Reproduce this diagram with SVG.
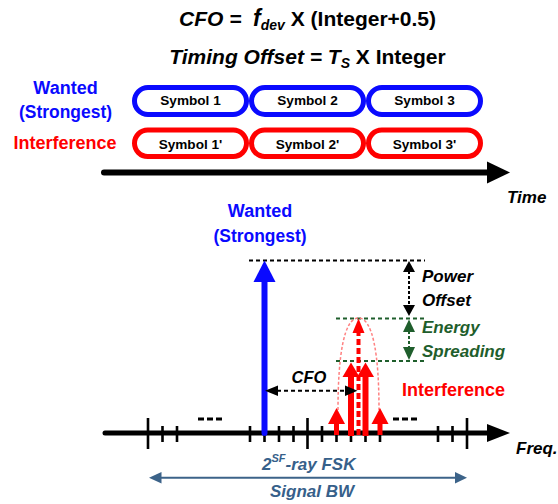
<svg xmlns="http://www.w3.org/2000/svg" width="558" height="504" viewBox="0 0 558 504">
  <defs>
    <style>
      text { font-family: "Liberation Sans", Arial, sans-serif; font-weight: bold; }
      .it { font-style: italic; }
      .title { font-size: 21px; fill: #000; text-anchor: middle; }
      .lbl { font-size: 18px; }
      .lbl2 { font-size: 17px; }
      .blue { fill: #0a0aff; }
      .red { fill: #ff0000; }
      .green { fill: #1f5e2c; }
      .slate { fill: #36608a; }
      .sym { font-size: 13.6px; fill: #000; text-anchor: middle; }
      .capB { fill: #fff; stroke: #0a0aff; stroke-width: 5; }
      .capR { fill: #fff; stroke: #ff0000; stroke-width: 5; }
      .tick { stroke: #000; stroke-width: 2.6; fill: none; }
      .bdash { stroke: #000; stroke-width: 2; stroke-dasharray: 4 3; fill: none; }
      .gdash { stroke: #1f5e2c; stroke-width: 2; stroke-dasharray: 4 3; fill: none; }
      .dots { stroke: #000; stroke-width: 3; stroke-dasharray: 6 3; }
    </style>
  </defs>

  <!-- formulas -->
  <g id="formulas">
    <text class="title" x="307.5" y="26"><tspan class="it">CFO =&#160;&#160;</tspan><tspan class="it" font-size="23">f</tspan><tspan class="it" font-size="14" dy="4">dev</tspan><tspan dy="-4"> X (Integer+0.5)</tspan></text>
    <text class="title" x="307.5" y="64"><tspan class="it">Timing Offset = T</tspan><tspan class="it" font-size="14" dy="4">S</tspan><tspan dy="-4"> X Integer</tspan></text>
  </g>

  <!-- row labels -->
  <g id="row-labels">
    <text class="lbl blue" x="65.5" y="94" text-anchor="middle">Wanted</text>
    <text class="lbl blue" x="65.5" y="118" text-anchor="middle" textLength="93" lengthAdjust="spacingAndGlyphs">(Strongest)</text>
    <text class="lbl red" x="65" y="149" text-anchor="middle">Interference</text>
  </g>

  <!-- symbol capsules -->
  <g id="wanted-sym1"><rect class="capB" x="134.5" y="87.5" width="112" height="27" rx="13.5"/><text class="sym" x="190.5" y="105">Symbol 1</text></g>
  <g id="wanted-sym2"><rect class="capB" x="251.5" y="87.5" width="112" height="27" rx="13.5"/><text class="sym" x="307.5" y="105">Symbol 2</text></g>
  <g id="wanted-sym3"><rect class="capB" x="368.5" y="87.5" width="112" height="27" rx="13.5"/><text class="sym" x="424.5" y="105">Symbol 3</text></g>
  <g id="interf-sym1"><rect class="capR" x="134.5" y="130" width="112" height="26.5" rx="13.25"/><text class="sym" x="190.5" y="148.5">Symbol 1'</text></g>
  <g id="interf-sym2"><rect class="capR" x="251.5" y="130" width="112" height="26.5" rx="13.25"/><text class="sym" x="307.5" y="148.5">Symbol 2'</text></g>
  <g id="interf-sym3"><rect class="capR" x="368.5" y="130" width="112" height="26.5" rx="13.25"/><text class="sym" x="424.5" y="148.5">Symbol 3'</text></g>

  <!-- time axis -->
  <g id="time-axis">
    <line x1="104" y1="172.5" x2="490" y2="172.5" stroke="#000" stroke-width="6" stroke-linecap="round"/>
    <polygon points="487,161.5 510,172.5 487,183.5" fill="#000"/>
    <text class="lbl2 it" x="507" y="202.5">Time</text>
  </g>

  <!-- frequency axis with tone grid -->
  <g id="freq-axis">
    <line x1="105" y1="433" x2="490" y2="433" stroke="#000" stroke-width="5" stroke-linecap="round"/>
    <polygon points="487,424 510,433 487,442" fill="#000"/>
    <path class="tick" d="M148,418V449 M307.5,418V449 M467,418V449
      M162.5,426V442 M177,426V442 M250,426V442 M264.5,426V442 M279,426V442 M293.5,426V442
      M322,426V442 M336.5,426V442 M351,426V442 M365.5,426V442 M380,426V442
      M438,426V442 M452.5,426V442"/>
    <line class="dots" x1="198" y1="419" x2="222" y2="419"/>
    <line class="dots" x1="393" y1="419" x2="417" y2="419"/>
    <text class="lbl2 it" x="516" y="454">Freq.</text>
  </g>

  <!-- level reference lines -->
  <g id="levels">
    <line class="bdash" x1="249" y1="260.5" x2="425" y2="260.5"/>
    <line class="gdash" x1="336" y1="318.5" x2="425" y2="318.5"/>
    <line class="gdash" x1="336" y1="361" x2="425" y2="361"/>
  </g>

  <!-- wanted tone -->
  <g id="wanted-tone">
    <line x1="264.5" y1="433" x2="264.5" y2="280" stroke="#0a0aff" stroke-width="6" stroke-linecap="round"/>
    <polygon points="253.5,282 264.5,260.5 275.5,282" fill="#0a0aff"/>
    <text class="lbl blue" x="260" y="216.7" text-anchor="middle">Wanted</text>
    <text class="lbl blue" x="260" y="241.7" text-anchor="middle" textLength="93" lengthAdjust="spacingAndGlyphs">(Strongest)</text>
  </g>

  <!-- interference tones -->
  <g id="interference-tones">
    <path d="M338,410 C338,355 344,318 358.5,318 C373,318 379,355 379,410" fill="none" stroke="#ff8080" stroke-width="1.5" stroke-dasharray="3 2"/>
    <line x1="336.5" y1="435" x2="336.5" y2="422" stroke="#ff0000" stroke-width="5"/>
    <polygon points="328,424 336.5,408 345,424" fill="#ff0000"/>
    <line x1="380" y1="435" x2="380" y2="422" stroke="#ff0000" stroke-width="5"/>
    <polygon points="371.5,424 380,408 388.5,424" fill="#ff0000"/>
    <line x1="351" y1="436" x2="351" y2="375" stroke="#ff0000" stroke-width="6"/>
    <polygon points="342.5,377 351,362.5 359.5,377" fill="#ff0000"/>
    <line x1="365.5" y1="436" x2="365.5" y2="375" stroke="#ff0000" stroke-width="6"/>
    <polygon points="357,377 365.5,362.5 374,377" fill="#ff0000"/>
    <line x1="358.5" y1="435" x2="358.5" y2="332" stroke="#ff0000" stroke-width="4" stroke-dasharray="6 3"/>
    <polygon points="352.5,333 358.5,318.5 364.5,333" fill="#ff0000"/>
    <text class="lbl red" x="402" y="396">Interference</text>
  </g>

  <!-- dimension arrows -->
  <g id="connectors">
    <g id="power-offset">
      <line x1="409" y1="271" x2="409" y2="306" stroke="#000" stroke-width="2" stroke-dasharray="3 2"/>
      <polygon points="403,272 409,261 415,272" fill="#000"/>
      <polygon points="403,305 409,316 415,305" fill="#000"/>
    </g>
    <g id="energy-spreading">
      <line x1="409" y1="331" x2="409" y2="348" stroke="#1f5e2c" stroke-width="2" stroke-dasharray="3 2"/>
      <polygon points="403,332 409,319.5 415,332" fill="#1f5e2c"/>
      <polygon points="403,347 409,360 415,347" fill="#1f5e2c"/>
    </g>
    <g id="cfo">
      <line x1="277" y1="390.7" x2="346" y2="390.7" stroke="#000" stroke-width="2" stroke-dasharray="4 3"/>
      <polygon points="278,385.5 265,390.7 278,396" fill="#000"/>
      <polygon points="345,385.5 357.5,390.7 345,396" fill="#000"/>
    </g>
    <g id="signal-bw">
      <line x1="160" y1="477.7" x2="456" y2="477.7" stroke="#3c6389" stroke-width="2"/>
      <polygon points="161.5,472 149,477.7 161.5,483.5" fill="#3c6389"/>
      <polygon points="455,472 467,477.7 455,483.5" fill="#3c6389"/>
    </g>
  </g>

  <!-- annotations -->
  <g id="annotations">
    <text class="lbl2 it" x="422" y="282">Power</text>
    <text class="lbl2 it" x="422" y="306">Offset</text>
    <text class="lbl2 it green" x="422" y="332.5">Energy</text>
    <text class="lbl2 it green" x="422" y="356.7">Spreading</text>
    <text class="it" x="309" y="382.5" font-size="16.5" text-anchor="middle">CFO</text>
    <text class="lbl2 it slate" x="262" y="470">2<tspan font-size="11" dy="-8">SF</tspan><tspan dy="8">-ray FSK</tspan></text>
    <text class="lbl2 it slate" x="270" y="497">Signal BW</text>
  </g>
</svg>
